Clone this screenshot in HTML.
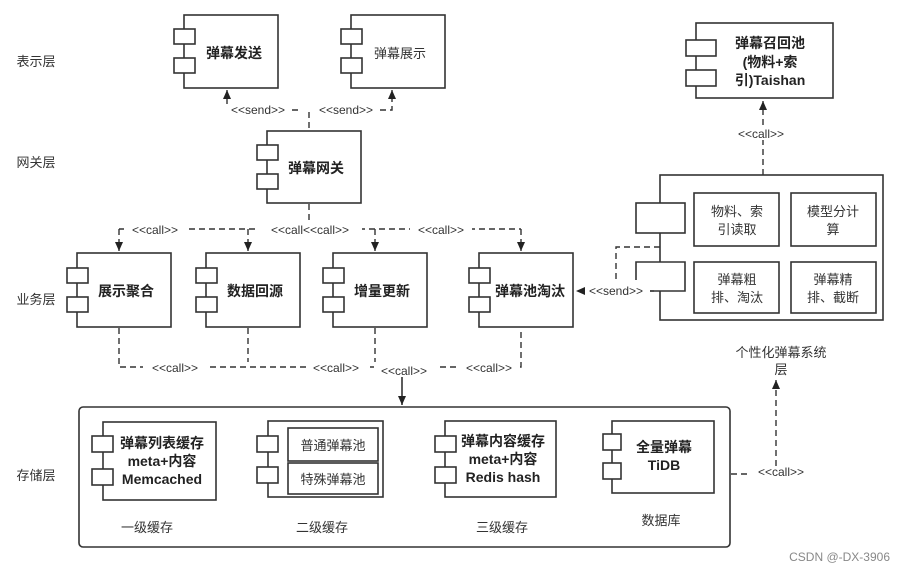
<!DOCTYPE html>
<html><head><meta charset="utf-8"><style>
html,body{margin:0;padding:0;background:#fff;}
svg{display:block;font-family:"Liberation Sans","Noto Sans CJK SC",sans-serif;}
.b{fill:#fff;stroke:#333;stroke-width:1.6}
.d{fill:none;stroke:#333;stroke-width:1.4;stroke-dasharray:6,4}
.t{font-size:14px;fill:#222;font-weight:bold;text-anchor:middle}
.n{font-size:13px;fill:#333;text-anchor:middle}
.l{font-size:12px;fill:#333;text-anchor:middle}
</style></head><body>
<svg width="904" height="571" viewBox="0 0 904 571">
<defs><marker id="a" markerWidth="10" markerHeight="10" refX="9" refY="5" orient="auto" markerUnits="userSpaceOnUse"><path d="M0,1 L9,5 L0,9 z" fill="#222"/></marker></defs>
<g class="n"><text x="36" y="66">表示层</text><text x="36" y="167">网关层</text><text x="36" y="304">业务层</text><text x="36" y="480">存储层</text></g>

<rect class="b" x="184" y="15" width="94" height="73"/><rect class="b" x="174" y="29" width="21" height="15"/><rect class="b" x="174" y="58" width="21" height="15"/>
<text class="t" x="234" y="58">弹幕发送</text>
<rect class="b" x="351" y="15" width="94" height="73"/><rect class="b" x="341" y="29" width="21" height="15"/><rect class="b" x="341" y="58" width="21" height="15"/>
<text class="n" x="400" y="58" fill="#555">弹幕展示</text>

<path class="d" d="M292,110 H300 M380,110 H392 V90" marker-end="url(#a)"/>
<path class="d" d="M227,104 V90" marker-end="url(#a)"/>
<text class="l" x="258" y="114">&lt;&lt;send&gt;&gt;</text><text class="l" x="346" y="114">&lt;&lt;send&gt;&gt;</text>
<path class="d" d="M309,112 V131"/>

<rect class="b" x="267" y="131" width="94" height="72"/><rect class="b" x="257" y="145" width="21" height="15"/><rect class="b" x="257" y="174" width="21" height="15"/>
<text class="t" x="316" y="173">弹幕网关</text>
<path class="d" d="M309,204 V222"/>
<path class="d" d="M119,229 H521"/>
<path class="d" d="M119,229 V251" marker-end="url(#a)"/><path class="d" d="M248,229 V251" marker-end="url(#a)"/>
<path class="d" d="M375,229 V251" marker-end="url(#a)"/><path class="d" d="M521,229 V251" marker-end="url(#a)"/>
<g class="l"><rect x="124" y="222" width="62" height="14" fill="#fff"/><text x="155" y="234">&lt;&lt;call&gt;&gt;</text>
<rect x="258" y="222" width="104" height="14" fill="#fff"/><text x="310" y="234">&lt;&lt;call&lt;&lt;call&gt;&gt;</text>
<rect x="410" y="222" width="62" height="14" fill="#fff"/><text x="441" y="234">&lt;&lt;call&gt;&gt;</text></g>

<g>
<rect class="b" x="77" y="253" width="94" height="74"/><rect class="b" x="67" y="268" width="21" height="15"/><rect class="b" x="67" y="297" width="21" height="15"/>
<text class="t" x="126" y="296">展示聚合</text>
<rect class="b" x="206" y="253" width="94" height="74"/><rect class="b" x="196" y="268" width="21" height="15"/><rect class="b" x="196" y="297" width="21" height="15"/>
<text class="t" x="255" y="296">数据回源</text>
<rect class="b" x="333" y="253" width="94" height="74"/><rect class="b" x="323" y="268" width="21" height="15"/><rect class="b" x="323" y="297" width="21" height="15"/>
<text class="t" x="382" y="296">增量更新</text>
<rect class="b" x="479" y="253" width="94" height="74"/><rect class="b" x="469" y="268" width="21" height="15"/><rect class="b" x="469" y="297" width="21" height="15"/>
<text class="t" x="530" y="296">弹幕池淘汰</text>
</g>
<path class="d" d="M119,328 V367 H521 V328 M248,328 V362 M375,328 V362"/>
<path stroke="#333" stroke-width="1.6" d="M402,369 V405" marker-end="url(#a)"/>
<g class="l"><rect x="143" y="360" width="64" height="14" fill="#fff"/><text x="175" y="372">&lt;&lt;call&gt;&gt;</text>
<rect x="308" y="360" width="58" height="14" fill="#fff"/><text x="336" y="372">&lt;&lt;call&gt;&gt;</text>
<rect x="374" y="363" width="62" height="14" fill="#fff"/><text x="404" y="375">&lt;&lt;call&gt;&gt;</text>
<rect x="458" y="360" width="62" height="14" fill="#fff"/><text x="489" y="372">&lt;&lt;call&gt;&gt;</text></g>

<rect class="b" x="79" y="407" width="651" height="140" rx="4"/>
<rect class="b" x="103" y="422" width="113" height="78"/><rect class="b" x="92" y="436" width="21" height="16"/><rect class="b" x="92" y="469" width="21" height="16"/>
<text class="t" x="162" y="448">弹幕列表缓存</text><text class="t" x="162" y="466">meta+内容</text><text class="t" x="162" y="484">Memcached</text>
<rect class="b" x="268" y="421" width="115" height="76"/><rect class="b" x="288" y="428" width="90" height="33"/><rect class="b" x="288" y="463" width="90" height="31"/>
<rect class="b" x="257" y="436" width="21" height="16"/><rect class="b" x="257" y="467" width="21" height="16"/>
<text class="n" x="333" y="450">普通弹幕池</text><text class="n" x="333" y="484">特殊弹幕池</text>
<rect class="b" x="445" y="421" width="111" height="76"/><rect class="b" x="435" y="436" width="21" height="16"/><rect class="b" x="435" y="467" width="21" height="16"/>
<text class="t" x="503" y="446">弹幕内容缓存</text><text class="t" x="503" y="464">meta+内容</text><text class="t" x="503" y="482">Redis hash</text>
<rect class="b" x="612" y="421" width="102" height="72"/><rect class="b" x="603" y="434" width="18" height="16"/><rect class="b" x="603" y="463" width="18" height="16"/>
<text class="t" x="664" y="452">全量弹幕</text><text class="t" x="664" y="470">TiDB</text>
<g class="n"><text x="147" y="532">一级缓存</text><text x="322" y="532">二级缓存</text><text x="502" y="532">三级缓存</text><text x="661" y="525">数据库</text></g>
<path class="d" d="M731,474 H748 M776,466 V380" marker-end="url(#a)"/>
<text class="l" x="781" y="476">&lt;&lt;call&gt;&gt;</text>
<text class="n" x="781" y="357">个性化弹幕系统</text><text class="n" x="781" y="374">层</text>

<rect class="b" x="696" y="23" width="137" height="75"/><rect class="b" x="686" y="40" width="30" height="16"/><rect class="b" x="686" y="70" width="30" height="16"/>
<text class="t" x="770" y="48">弹幕召回池</text><text class="t" x="770" y="67">(物料+索</text><text class="t" x="770" y="85">引)Taishan</text>
<path class="d" d="M763,175 V101" marker-end="url(#a)"/>
<rect x="728" y="126" width="66" height="14" fill="#fff"/><text class="l" x="761" y="138">&lt;&lt;call&gt;&gt;</text>
<rect class="b" x="660" y="175" width="223" height="145"/>
<rect class="b" x="636" y="203" width="49" height="30"/>
<path fill="#fff" stroke="#333" stroke-width="1.6" d="M636,280 V262 H685 V291 H650"/>
<path class="d" d="M660,247 H616 V280"/>
<path stroke="#333" stroke-width="1.4" d="M650,291 H654"/>
<path class="d" d="M585,291 H576" marker-end="url(#a)"/>
<text class="l" x="616" y="295">&lt;&lt;send&gt;&gt;</text>
<rect class="b" x="694" y="193" width="85" height="53"/><rect class="b" x="791" y="193" width="85" height="53"/>
<rect class="b" x="694" y="262" width="85" height="51"/><rect class="b" x="791" y="262" width="85" height="51"/>
<g class="n"><text x="737" y="216">物料、索</text><text x="737" y="234">引读取</text>
<text x="833" y="216">模型分计</text><text x="833" y="234">算</text>
<text x="737" y="284">弹幕粗</text><text x="737" y="302">排、淘汰</text>
<text x="833" y="284">弹幕精</text><text x="833" y="302">排、截断</text></g>
<text x="890" y="561" font-size="12" fill="#888" text-anchor="end">CSDN @-DX-3906</text>
</svg>
</body></html>
